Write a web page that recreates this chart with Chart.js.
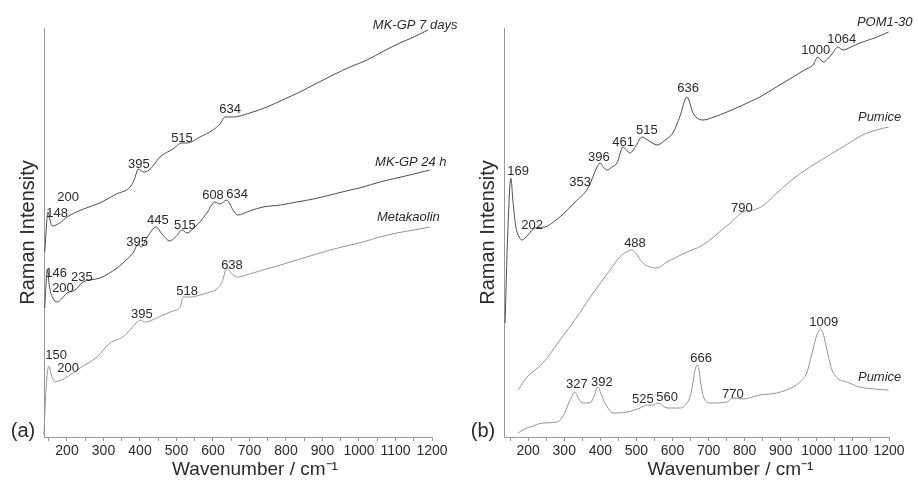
<!DOCTYPE html>
<html lang="en">
<head>
    <meta charset="UTF-8">
    <title>Raman spectra</title>
    <script src="https://cdn.jsdelivr.net/npm/chart.js"></script>
    <style>
        body { margin: 0; background: #fff; }
        .panel { position: absolute; top: 0; width: 459px; height: 481px; }
        #left { left: 0; }
        #right { left: 459px; }
    </style>
</head>
<body>
    <div class="panel" id="left"><canvas id="chartA" width="459" height="481"></canvas></div>
    <div class="panel" id="right"><canvas id="chartB" width="459" height="481"></canvas></div>

    <script>
        // (a) wavenumber / intensity
        const mk7Wn  = [139,148,153,159,180,200,245,290,335,373,385,395,410,425,455,490,515,530,564,600,619,633,655,701,748,790,838,880,929,975,1022,1068,1112,1150,1189];
        const mk7Int = [185,225,218,211,214,220,228,234,243,250,258,268,265,267,280,288,294,294,300,307,313,320,320,324,330,337,345,353,362,370,377,386,394,400,407];

        const mk24Wn  = [139,146,152,160,173,185,200,222,244,290,337,365,381,395,403,420,444,460,482,500,515,529,550,564,585,605,619,638,655,668,700,737,785,830,875,921,965,1011,1057,1104,1150,1194];
        const mk24Int = [129,167,150,140,135,138,144,147,155,159,169,178,184,193,190,200,210,203,196,201,207,204,210,215,225,235,233,237,227,222,226,230,232,235,238,242,246,250,255,259,263,267];

        const metaWn  = [137,140,145,150,157,167,185,200,236,282,318,335,353,375,392,400,414,440,463,490,510,518,537,565,592,610,625,638,652,668,700,737,785,830,875,921,965,1011,1057,1104,1150,1194];
        const metaInt = [2,30,60,71,62,55,57,60,69,80,94,97,100,108,115,117,115,118,122,126,130,140,140,142,145,148,155,169,163,160,163,167,172,177,182,187,191,195,200,204,207,210];

        // (b)
        const pomWn  = [136,143,152,158,165,175,183,199,219,247,270,294,330,366,391,399,408,418,432,446,463,472,482,500,515,535,557,580,601,620,640,657,668,684,715,751,795,842,888,934,965,989,1003,1017,1030,1044,1058,1072,1095,1119,1160,1199];
        const pomInt = [114,200,259,235,212,200,197,202,209,210,215,222,235,249,270,274,270,267,270,274,290,287,284,292,300,296,292,297,304,320,340,324,319,317,320,325,332,340,350,360,367,372,380,375,378,384,390,387,390,394,399,405];

        const pumTopWn  = [172,197,241,288,335,380,427,454,472,488,500,515,537,557,585,612,640,668,700,730,760,795,823,850,889,934,981,1044,1085,1127,1165,1199];
        const pumTopInt = [47,60,74,97,120,144,167,180,185,187,183,175,170,169,175,180,185,189,196,205,214,225,227,231,244,258,270,284,293,302,307,310];

        const pumBotWn  = [172,190,205,241,280,295,308,320,330,340,352,371,382,393,403,413,435,474,510,529,546,560,585,621,640,650,657,662,668,674,679,686,704,751,767,795,842,889,934,953,972,989,1000,1011,1020,1028,1042,1060,1083,1119,1160,1199];
        const pumBotInt = [4,8,10,14,15,20,30,40,45,38,34,34,40,50,42,34,24,25,29,32,32,34,29,29,34,42,55,66,72,66,52,40,34,35,39,38,42,44,50,55,64,87,102,108,100,87,67,58,55,50,48,47];

        const xTicks = [200, 300, 400, 500, 600, 700, 800, 900, 1000, 1100, 1200];

        // peak labels: text, wavenumber, intensity, italic
        const labelsA = [
            ['MK-GP 7 days', 1038, 412, true],
            ['634', 647, 328], ['515', 515, 299], ['395', 397, 273], ['200', 203, 240], ['148', 173, 224],
            ['MK-GP 24 h', 1044, 275, true],
            ['608', 600, 242], ['634', 666, 243], ['445', 449, 217], ['515', 523, 212],
            ['395', 392, 195], ['146', 170, 164], ['235', 241, 160], ['200', 189, 149],
            ['Metakaolin', 1049, 220, true],
            ['638', 652, 172], ['518', 529, 146], ['395', 405, 123], ['150', 170, 82], ['200', 203, 69]
        ];
        const labelsB = [
            ['POM1-30', 1111, 415, true],
            ['1000', 997, 387], ['1064', 1069, 398], ['636', 643, 349], ['515', 529, 307],
            ['461', 463, 295], ['396', 396, 280], ['353', 344, 255], ['169', 172, 266], ['202', 211, 212],
            ['Pumice', 1114, 320, true],
            ['790', 792, 229], ['488', 496, 194],
            ['1009', 1019, 115], ['666', 679, 79], ['327', 335, 53], ['392', 404, 55],
            ['525', 518, 38], ['560', 585, 40], ['770', 767, 43],
            ['Pumice', 1114, 60, true]
        ];

        const FONT = '"Liberation Sans", Arial, sans-serif';
        Chart.defaults.font.family = FONT;

        function pts(xs, ys) {
            return xs.map((v, i) => ({ x: v, y: ys[i] }));
        }

        function series(xs, ys, color) {
            return {
                data: pts(xs, ys),
                borderColor: color,
                borderWidth: 1,
                pointRadius: 0,
                cubicInterpolationMode: 'monotone',
                fill: false,
                clip: false
            };
        }

        // text annotations, panel letter and x-axis title
        const textPlugin = {
            id: 'texts',
            afterDatasetsDraw(chart, args, opts) {
                const { ctx, chartArea, scales: { x, y } } = chart;
                ctx.save();
                ctx.fillStyle = '#2b2b2b';
                ctx.textBaseline = 'middle';
                opts.items.forEach(([t, wx, wy, it]) => {
                    ctx.font = (it ? 'italic ' : '') + '13px ' + FONT;
                    ctx.textAlign = it ? 'left' : 'center';
                    ctx.fillText(t, x.getPixelForValue(wx), y.getPixelForValue(wy));
                });
                ctx.font = '20px ' + FONT;
                ctx.textAlign = 'center';
                ctx.fillText(opts.letter, chartArea.left - 21, chartArea.bottom - 6);
                ctx.font = '19px ' + FONT;
                ctx.fillText('Wavenumber / cm\u207B\u00B9', (chartArea.left + chartArea.right) / 2 + opts.titleShift, 470);
                ctx.restore();
            }
        };

        function makeChart(id, datasets, xMin, axisLeft, padRight, items, letter, titleShift) {
            return new Chart(document.getElementById(id), {
                type: 'line',
                data: { datasets: datasets },
                plugins: [textPlugin],
                options: {
                    responsive: false,
                    animation: false,
                    layout: { padding: { top: 28, right: padRight, left: 0, bottom: 0 } },
                    plugins: {
                        legend: { display: false },
                        tooltip: { enabled: false },
                        texts: { items: items, letter: letter, titleShift: titleShift }
                    },
                    scales: {
                        x: {
                            type: 'linear',
                            min: xMin,
                            max: 1200,
                            border: { color: '#9a9a9a', width: 1 },
                            grid: { drawOnChartArea: false, drawTicks: true, tickLength: 4, color: '#9a9a9a' },
                            ticks: {
                                stepSize: 50,
                                includeBounds: false,
                                autoSkip: false,
                                maxRotation: 0,
                                padding: 2,
                                color: '#2b2b2b',
                                font: { size: 14 },
                                callback: v => xTicks.includes(v) ? String(v) : ''
                            },
                            afterFit: s => { s.height = 44; }
                        },
                        y: {
                            min: 0,
                            max: 409,
                            border: { color: '#9a9a9a', width: 1 },
                            grid: { display: false },
                            ticks: { display: false },
                            title: {
                                display: true,
                                text: 'Raman Intensity',
                                color: '#2b2b2b',
                                font: { size: 20 },
                                padding: { top: axisLeft - 28, bottom: 0 }
                            },
                            afterFit: s => { s.width = axisLeft; }
                        }
                    }
                }
            });
        }

        makeChart('chartA', [
            series(mk7Wn, mk7Int, '#4d4d4d'),
            series(mk24Wn, mk24Int, '#4d4d4d'),
            series(metaWn, metaInt, '#959595')
        ], 137, 44, 27, labelsA, '(a)', 17);

        makeChart('chartB', [
            series(pomWn, pomInt, '#4d4d4d'),
            series(pumTopWn, pumTopInt, '#959595'),
            series(pumBotWn, pumBotInt, '#959595')
        ], 133, 45, 29, labelsB, '(b)', 34);
    </script>
</body>
</html>
